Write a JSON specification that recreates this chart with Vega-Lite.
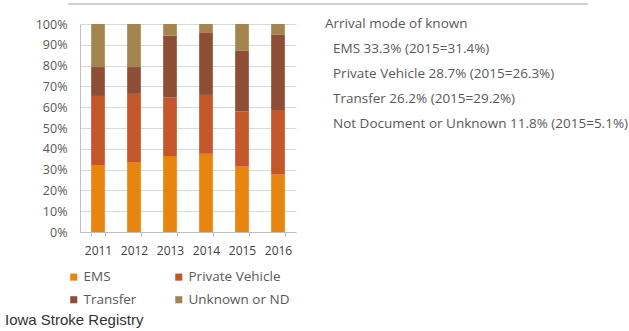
{
  "$schema": "https://vega.github.io/schema/vega-lite/v6.json",
  "padding": {"left": 5, "top": 3, "right": 2, "bottom": 2},
  "background": "white",
  "bounds": "flush",
  "spacing": 29,
  "title": {"text": "Iowa Stroke Registry", "orient": "bottom", "anchor": "start", "frame": "group", "dx": -75, "offset": 6, "font": "Liberation Sans", "fontSize": 15, "fontWeight": "normal", "color": "#333333"},
  "config": {"view": {"stroke": null}, "font": "Open Sans"},
  "hconcat": [
    {
      "width": 216,
      "height": 208,
      "data": {"values": [
        {"year": "2011", "mode": "EMS", "pct": 32.2}, {"year": "2011", "mode": "Private Vehicle", "pct": 33.2}, {"year": "2011", "mode": "Transfer", "pct": 13.9}, {"year": "2011", "mode": "Unknown or ND", "pct": 20.7},
        {"year": "2012", "mode": "EMS", "pct": 33.6}, {"year": "2012", "mode": "Private Vehicle", "pct": 32.8}, {"year": "2012", "mode": "Transfer", "pct": 12.9}, {"year": "2012", "mode": "Unknown or ND", "pct": 20.7},
        {"year": "2013", "mode": "EMS", "pct": 36.5}, {"year": "2013", "mode": "Private Vehicle", "pct": 28.1}, {"year": "2013", "mode": "Transfer", "pct": 29.8}, {"year": "2013", "mode": "Unknown or ND", "pct": 5.6},
        {"year": "2014", "mode": "EMS", "pct": 37.6}, {"year": "2014", "mode": "Private Vehicle", "pct": 28.3}, {"year": "2014", "mode": "Transfer", "pct": 29.8}, {"year": "2014", "mode": "Unknown or ND", "pct": 4.3},
        {"year": "2015", "mode": "EMS", "pct": 31.4}, {"year": "2015", "mode": "Private Vehicle", "pct": 26.5}, {"year": "2015", "mode": "Transfer", "pct": 29.2}, {"year": "2015", "mode": "Unknown or ND", "pct": 12.9},
        {"year": "2016", "mode": "EMS", "pct": 27.7}, {"year": "2016", "mode": "Private Vehicle", "pct": 31.0}, {"year": "2016", "mode": "Transfer", "pct": 36.2}, {"year": "2016", "mode": "Unknown or ND", "pct": 5.1}
      ]},
      "mark": {"type": "bar"},
      "encoding": {
        "x": {"field": "year", "type": "ordinal", "title": null,
          "scale": {"paddingInner": 0.62, "paddingOuter": 0.31},
          "axis": {"labelAngle": 0, "tickBand": "extent", "tickSize": 4, "tickColor": "#BFBFBF", "domainColor": "#BFBFBF", "labelFontSize": 12, "labelColor": "#404040", "labelPadding": 9}},
        "y": {"field": "pct", "type": "quantitative", "stack": "normalize", "title": null,
          "scale": {"domain": [0, 1]},
          "axis": {"format": ".0%", "values": [0, 0.1, 0.2, 0.3, 0.4, 0.5, 0.6, 0.7, 0.8, 0.9, 1], "ticks": false, "labelPadding": 13, "minExtent": 75, "domainColor": "#BFBFBF", "gridColor": "#D9D9D9", "labelFontSize": 12.5, "labelColor": "#595959"}},
        "order": {"field": "mode", "sort": "ascending"},
        "color": {"field": "mode", "type": "nominal", "title": null,
          "scale": {"domain": ["EMS", "Private Vehicle", "Transfer", "Unknown or ND"], "range": ["#E8850F", "#C4572A", "#8E4E35", "#A3844F"]},
          "legend": {"orient": "none", "direction": "horizontal", "legendX": -13, "legendY": 246, "columns": 2, "symbolType": "square", "symbolSize": 50, "symbolStrokeWidth": 0, "labelFontSize": 13.5, "labelColor": "#595959", "columnPadding": 35, "rowPadding": 8, "labelOffset": 3}}
      }
    },
    {
      "width": 300,
      "height": 100,
      "data": {"values": [
        {"n": 0, "kind": "head", "line": "Arrival mode of known"},
        {"n": 1, "kind": "item", "line": "EMS 33.3% (2015=31.4%)"},
        {"n": 2, "kind": "item", "line": "Private Vehicle 28.7% (2015=26.3%)"},
        {"n": 3, "kind": "item", "line": "Transfer 26.2% (2015=29.2%)"},
        {"n": 4, "kind": "item", "line": "Not Document or Unknown 11.8% (2015=5.1%)"}
      ]},
      "layer": [
        {
          "mark": {"type": "rule", "color": "#D0D0D0", "strokeWidth": 2, "clip": false},
          "encoding": {
            "x": {"datum": -0.8567, "type": "quantitative", "scale": {"domain": [0, 1]}, "axis": null},
            "x2": {"datum": 0.8767},
            "y": {"datum": -0.8, "type": "quantitative", "scale": {"domain": [0, 4], "reverse": true}, "axis": null}
          }
        },
        {
          "transform": [{"filter": "datum.kind == 'head'"}],
          "mark": {"type": "text", "align": "left", "baseline": "middle", "fontSize": 13.5, "color": "#595959"},
          "encoding": {
            "x": {"datum": 0, "type": "quantitative"},
            "y": {"field": "n", "type": "quantitative"},
            "text": {"field": "line"}
          }
        },
        {
          "transform": [{"filter": "datum.kind == 'item'"}],
          "mark": {"type": "text", "align": "left", "baseline": "middle", "fontSize": 13.5, "color": "#595959", "dx": 8},
          "encoding": {
            "x": {"datum": 0, "type": "quantitative"},
            "y": {"field": "n", "type": "quantitative"},
            "text": {"field": "line"}
          }
        }
      ]
    }
  ]
}
